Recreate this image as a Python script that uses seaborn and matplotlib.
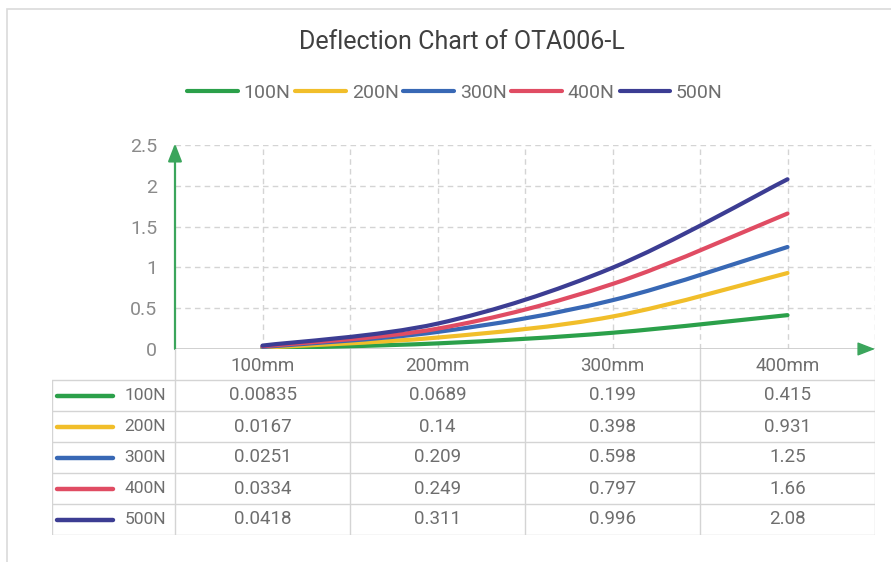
import numpy as np
import pandas as pd
import seaborn as sns
import matplotlib.pyplot as plt
from matplotlib.path import Path
from matplotlib.patches import PathPatch, Rectangle
from matplotlib.lines import Line2D

# data
positions = ["100mm", "200mm", "300mm", "400mm"]
loads = ["100N", "200N", "300N", "400N", "500N"]
defl_100N = [0.00835, 0.0689, 0.199, 0.415]
defl_200N = [0.0167, 0.14, 0.398, 0.931]
defl_300N = [0.0251, 0.209, 0.598, 1.25]
defl_400N = [0.0334, 0.249, 0.797, 1.66]
defl_500N = [0.0418, 0.311, 0.996, 2.08]
series = [defl_100N, defl_200N, defl_300N, defl_400N, defl_500N]
line_colors = ["#2BA04A", "#F1BE2A", "#3868B5", "#E04C63", "#3C3D93"]

df = pd.DataFrame(series, index=loads, columns=positions)

sns.set_theme(style="white")
plt.rcParams["font.family"] = ["Roboto", "DejaVu Sans"]
txt_gray = "#6E6E6E"
grid_gray = "#D4D4D4"
axis_green = "#3BA55C"

W, H = 891, 562
fig = plt.figure(figsize=(W / 100, H / 100), dpi=100)

def frac(x0, y0, x1, y1):
    return [x0 / W, 1 - y1 / H, (x1 - x0) / W, (y1 - y0) / H]

# light frame around the figure
fig.patches.append(Rectangle((7 / W, -0.05), 1.2, 1 - 9 / H + 0.05, transform=fig.transFigure,
                             fill=False, edgecolor="#DADADA", lw=1.2))

ax = fig.add_axes(frac(175, 145, 875, 349))
ax.set_xlim(-0.5, 3.5)
ax.set_ylim(0, 2.5)
for s in ax.spines.values():
    s.set_visible(False)
ax.set_xticks([])
ax.set_yticks([0, 0.5, 1, 1.5, 2, 2.5])
ax.set_yticklabels(["0", "0.5", "1", "1.5", "2", "2.5"], color="#8A8A8A", fontsize=14)
ax.tick_params(axis="y", length=0, pad=13)

# grid
for yv in [0.5, 1, 1.5, 2, 2.5]:
    ax.axhline(yv, color=grid_gray, lw=1, ls=(0, (4, 3)), zorder=1)
for xv in np.arange(0, 3.6, 0.5):
    ax.axvline(xv, color=grid_gray, lw=1, ls=(0, (4, 3)), zorder=1)
ax.axhline(0, color="#C8C8C8", lw=1.2, zorder=2)

# arrows
ax.annotate("", xy=(-0.5, 2.52), xytext=(-0.5, 0), xycoords="data",
            arrowprops=dict(arrowstyle="-|>,head_length=0.9,head_width=0.35", color=axis_green, lw=1.6,
                            shrinkA=0, shrinkB=0), annotation_clip=False, zorder=4)
ax.annotate("", xy=(3.5, 0), xytext=(3.42, 0), xycoords="data",
            arrowprops=dict(arrowstyle="-|>,head_length=0.9,head_width=0.35", color=axis_green, lw=1,
                            shrinkA=0, shrinkB=0), annotation_clip=False, zorder=4)

# smoothed lines (Excel-style Catmull-Rom Bezier through the data points)
xs = np.arange(len(positions))
for name, col in zip(loads, line_colors):
    ys = df.loc[name].values
    pts = np.column_stack([xs, ys])
    verts = [pts[0]]
    codes = [Path.MOVETO]
    n = len(pts)
    for i in range(n - 1):
        p0 = pts[max(i - 1, 0)]
        p1 = pts[i]
        p2 = pts[i + 1]
        p3 = pts[min(i + 2, n - 1)]
        verts += [p1 + (p2 - p0) / 6, p2 - (p3 - p1) / 6, p2]
        codes += [Path.CURVE4] * 3
    ax.add_patch(PathPatch(Path(verts, codes), fill=False, edgecolor=col, lw=3,
                           capstyle="round", joinstyle="round", zorder=3))

# title and legend
fig.text(462 / W, 1 - 42 / H, "Deflection Chart of OTA006-L", ha="center", va="center",
         fontsize=18, color="#404040")
handles = [Line2D([], [], color=c, lw=3) for c in line_colors]
fig.legend(handles, loads, loc="center", bbox_to_anchor=(455 / W, 1 - 93 / H), ncol=5,
           frameon=False, fontsize=14, handlelength=2.6, handletextpad=0.3, columnspacing=0.25,
           labelcolor=txt_gray)

# data table
xl = -0.5 - (175 - 52) / 175
tab = fig.add_axes(frac(52, 349, 875, 535))
tab.set_xlim(xl, 3.5)
tab.set_ylim(6, 0)
tab.axis("off")
for r in range(1, 7):
    tab.plot([xl, 3.5], [r, r], color=grid_gray, lw=1)
tab.plot([xl, xl], [1, 6], color=grid_gray, lw=1)
for xv in [-0.5, 0.5, 1.5, 2.5, 3.5]:
    tab.plot([xv, xv], [0, 6], color=grid_gray, lw=1)
for j, p in enumerate(positions):
    tab.text(j, 0.55, p, ha="center", va="center", fontsize=13.5, color=txt_gray)
for i, (name, col) in enumerate(zip(loads, line_colors)):
    yr = i + 1.5
    tab.plot([xl + 0.03, xl + 0.35], [yr, yr], color=col, lw=3.2, solid_capstyle="round")
    tab.text(-0.55, yr, name, ha="right", va="center", fontsize=12.5, color=txt_gray)
    for j, v in enumerate(df.loc[name].values):
        tab.text(j, yr, f"{v:g}", ha="center", va="center", fontsize=13.5, color=txt_gray)

fig.savefig("out.png", dpi=100)
